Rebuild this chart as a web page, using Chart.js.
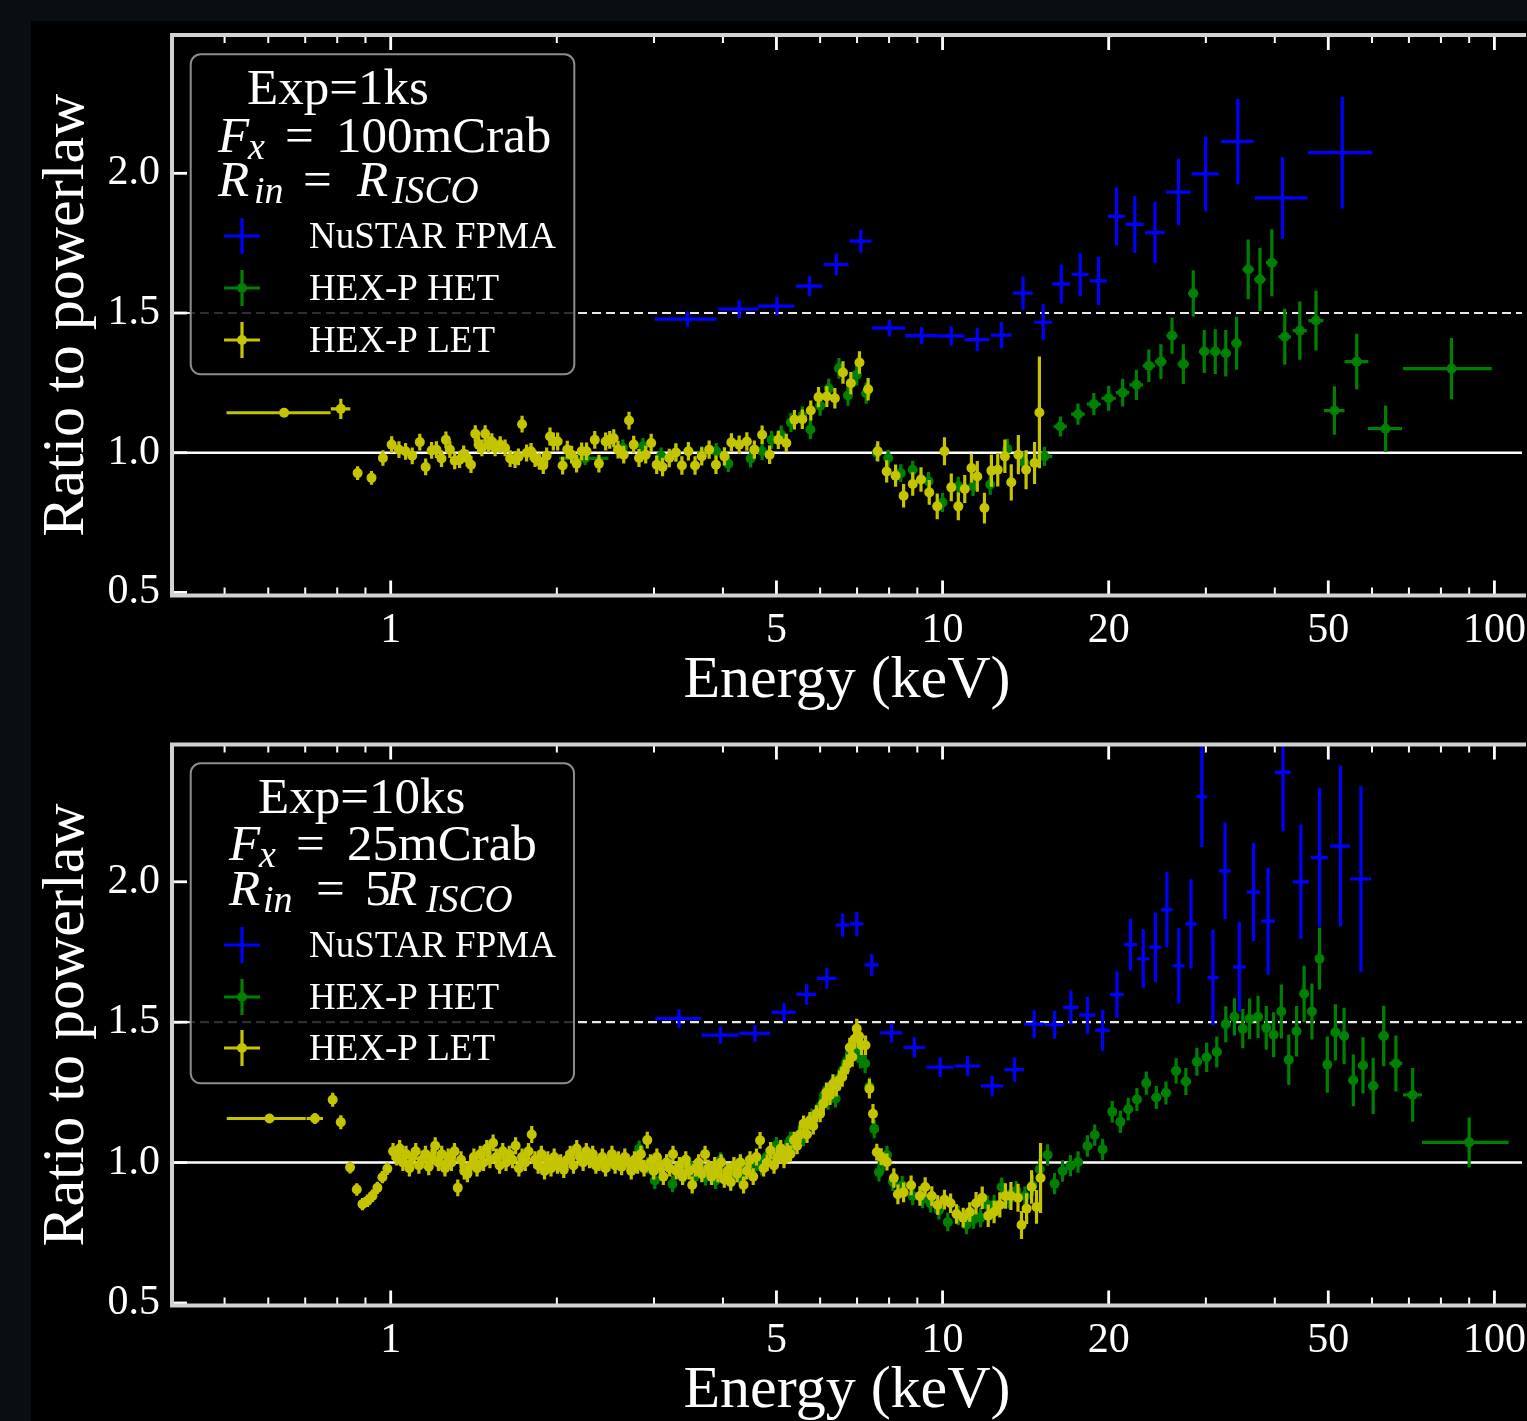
<!DOCTYPE html>
<html>
<head>
<meta charset="utf-8">
<script src="https://cdn.jsdelivr.net/npm/chart.js@4.4.0/dist/chart.umd.min.js"></script>
<style>
    html, body { margin: 0; padding: 0; width: 1527px; height: 1421px; overflow: hidden; background: #0a0d12; }
    #bg { position: absolute; left: 31px; top: 21px; right: 0; bottom: 0; background: #000; }
    canvas { position: absolute; left: 0; }
    #c1 { top: 0; }
    #c2 { top: 720px; }
</style>
</head>
<body>
<div id="bg"></div>
<canvas id="c1" width="1527" height="720"></canvas>
<canvas id="c2" width="1527" height="720"></canvas>
<script>
// axis ticks
const xTicks = [0.5, 0.6, 0.7, 0.8, 0.9, 1, 2, 3, 4, 5, 6, 7, 8, 9, 10, 20, 30, 40, 50, 60, 70, 80, 90, 100];
const xTickLabels = [1, 5, 10, 20, 50, 100];
const yTicks = [0.5, 1.0, 1.5, 2.0];

// ---- top panel: Exp=1ks, 100 mCrab, Rin = R_ISCO ----
const p1NustarE = [3.45, 4.28, 5.01, 5.74, 6.42, 7.11, 8.01, 9.16, 10.37, 11.56,
    12.79, 13.99, 15.22, 16.41, 17.76, 19.17, 20.67, 22.3, 24.26, 26.77,
    29.97, 34.28, 41.3, 53.0];
const p1NustarR = [1.478, 1.514, 1.525, 1.596, 1.673, 1.757, 1.446, 1.419, 1.418, 1.405,
    1.421, 1.571, 1.467, 1.604, 1.638, 1.615, 1.846, 1.817, 1.788, 1.933,
    1.998, 2.114, 1.912, 2.074];
const p1NustarRErr = [0.027, 0.033, 0.033, 0.036, 0.039, 0.041, 0.03, 0.031, 0.035, 0.042,
    0.048, 0.06, 0.064, 0.07, 0.077, 0.086, 0.104, 0.102, 0.11, 0.119,
    0.134, 0.153, 0.146, 0.2];
const p1NustarEErr = [0.44, 0.355, 0.375, 0.32, 0.335, 0.325, 0.55, 0.61, 0.585, 0.6,
    0.55, 0.58, 0.575, 0.615, 0.625, 0.69, 0.74, 0.84, 1.0, 1.375,
    1.7, 2.35, 4.5, 7.1];

const p1HetE = [2.25, 2.635, 2.865, 3.09, 3.287, 3.661, 3.89, 4.09, 4.49, 4.71,
    4.90, 5.10, 5.31, 5.57, 5.76, 6.0, 6.22, 6.49, 6.74, 6.99,
    7.27, 7.6, 7.97, 8.4, 8.83, 9.43, 10.0, 10.68, 11.36, 12.2,
    13.1, 14.05, 15.3, 16.35, 17.6, 18.8, 20.0, 21.2, 22.45, 23.65,
    24.87, 26.05, 27.31, 28.46, 29.8, 31.2, 32.6, 34.1, 35.8, 37.6,
    39.5, 41.7, 44.4, 47.5, 51.3, 56.3, 63.5, 83.6];
const p1HetR = [0.98, 1.017, 1.023, 0.989, 1.001, 0.993, 1.005, 0.961, 0.979, 1.005,
    1.046, 1.064, 1.108, 1.131, 1.083, 1.168, 1.23, 1.302, 1.205, 1.279,
    1.213, 1.0, 0.981, 0.927, 0.939, 0.898, 0.822, 0.880, 0.880, 0.886,
    1.013, 0.965, 0.987, 1.094, 1.138, 1.174, 1.195, 1.215, 1.243, 1.311,
    1.326, 1.419, 1.317, 1.570, 1.362, 1.362, 1.356, 1.392, 1.656, 1.620,
    1.680, 1.415, 1.437, 1.473, 1.151, 1.326, 1.086, 1.301];
const p1HetRErr = [0.025, 0.03, 0.03, 0.03, 0.03, 0.03, 0.03, 0.03, 0.032, 0.032,
    0.033, 0.033, 0.034, 0.035, 0.035, 0.036, 0.036, 0.037, 0.037, 0.038,
    0.038, 0.03, 0.03, 0.032, 0.032, 0.033, 0.034, 0.034, 0.035, 0.036,
    0.037, 0.038, 0.034, 0.036, 0.038, 0.04, 0.045, 0.05, 0.054, 0.058,
    0.062, 0.065, 0.071, 0.083, 0.077, 0.08, 0.083, 0.095, 0.107, 0.113,
    0.12, 0.1, 0.104, 0.107, 0.087, 0.1, 0.083, 0.11];
const p1HetEErr = [0.23, 0.02, 0.02, 0.02, 0.02, 0.03, 0.03, 0.03, 0.04, 0.04,
    0.04, 0.04, 0.05, 0.05, 0.05, 0.05, 0.05, 0.06, 0.06, 0.06,
    0.07, 0.08, 0.08, 0.1, 0.1, 0.12, 0.12, 0.15, 0.15, 0.2,
    0.2, 0.25, 0.5, 0.45, 0.5, 0.55, 0.6, 0.6, 0.65, 0.6,
    0.6, 0.6, 0.65, 0.6, 0.65, 0.7, 0.7, 0.75, 0.85, 0.9,
    0.95, 1.1, 1.3, 1.5, 2.2, 2.8, 4.5, 15.3];

const p1LetE = [0.641, 0.812, 0.871, 0.923, 0.968, 1.004, 1.035, 1.064, 1.094, 1.129,
    1.157, 1.186, 1.21, 1.236, 1.259, 1.28, 1.306, 1.333, 1.356, 1.375,
    1.398, 1.423, 1.443, 1.463, 1.483, 1.504, 1.525, 1.546, 1.579, 1.612,
    1.646, 1.68, 1.704, 1.73, 1.763, 1.796, 1.826, 1.859, 1.89, 1.917,
    1.944, 1.971, 2.007, 2.049, 2.089, 2.127, 2.172, 2.218, 2.264, 2.343,
    2.384, 2.452, 2.494, 2.536, 2.582, 2.644, 2.703, 2.756, 2.818, 2.898,
    2.965, 3.034, 3.109, 3.197, 3.287, 3.37, 3.463, 3.56, 3.661, 3.776,
    3.885, 4.025, 4.143, 4.28, 4.42, 4.56, 4.71, 4.86, 5.04, 5.21,
    5.39, 5.57, 5.77, 5.96, 6.17, 6.38, 6.6, 6.82, 7.07, 7.33,
    7.63, 7.92, 8.22, 8.5, 8.83, 9.14, 9.46, 9.78, 10.08, 10.37,
    10.68, 10.97, 11.28, 11.56, 11.91, 12.26, 12.59, 12.97, 13.32, 13.72,
    14.17, 14.68, 14.98];
const p1LetR = [1.143, 1.157, 0.927, 0.910, 0.981, 1.029, 1.011, 1.005, 0.989, 1.038,
    0.949, 1.008, 1.011, 0.979, 1.046, 1.011, 0.971, 0.975, 0.996, 0.981,
    0.957, 1.068, 1.029, 1.017, 1.068, 1.029, 1.040, 1.017, 1.029, 1.017,
    0.979, 0.975, 0.985, 1.102, 0.999, 1.005, 0.979, 0.969, 0.954, 0.989,
    1.058, 1.040, 1.040, 0.954, 1.011, 0.993, 0.961, 1.005, 1.005, 1.046,
    0.961, 1.040, 1.046, 1.052, 1.011, 0.993, 1.115, 1.029, 0.981, 0.993,
    1.035, 0.957, 0.949, 0.981, 1.001, 0.954, 1.005, 0.954, 0.987, 1.011,
    0.957, 0.987, 1.037, 1.029, 1.040, 1.011, 1.064, 0.993, 1.046, 1.035,
    1.118, 1.120, 1.151, 1.199, 1.201, 1.195, 1.287, 1.249, 1.323, 1.227,
    1.005, 0.933, 0.918, 0.846, 0.888, 0.904, 0.858, 0.808, 1.005, 0.876,
    0.808, 0.870, 0.945, 0.915, 0.802, 0.936, 0.939, 0.987, 0.894, 0.993,
    0.939, 0.963, 1.144];
const p1LetRErr = [0.012, 0.036, 0.025, 0.025, 0.028, 0.03, 0.03, 0.03, 0.03, 0.03,
    0.03, 0.03, 0.03, 0.03, 0.03, 0.03, 0.03, 0.03, 0.03, 0.03,
    0.03, 0.03, 0.03, 0.03, 0.03, 0.03, 0.03, 0.03, 0.03, 0.03,
    0.03, 0.03, 0.03, 0.03, 0.03, 0.03, 0.03, 0.03, 0.03, 0.03,
    0.032, 0.032, 0.032, 0.032, 0.032, 0.032, 0.032, 0.032, 0.032, 0.032,
    0.032, 0.032, 0.032, 0.032, 0.032, 0.032, 0.032, 0.032, 0.032, 0.032,
    0.033, 0.033, 0.033, 0.033, 0.033, 0.033, 0.033, 0.033, 0.033, 0.033,
    0.033, 0.033, 0.033, 0.033, 0.033, 0.033, 0.033, 0.033, 0.033, 0.033,
    0.035, 0.035, 0.036, 0.036, 0.037, 0.037, 0.04, 0.04, 0.04, 0.04,
    0.036, 0.04, 0.04, 0.042, 0.042, 0.044, 0.044, 0.046, 0.05, 0.05,
    0.05, 0.05, 0.052, 0.055, 0.055, 0.058, 0.06, 0.06, 0.065, 0.07,
    0.07, 0.075, 0.2];
const p1LetEErr = [0.137, 0.033];

// ---- bottom panel: Exp=10ks, 25 mCrab, Rin = 5 R_ISCO ----
const p2NustarE = [3.33, 3.96, 4.57, 5.16, 5.67, 6.17, 6.59, 6.99, 7.44, 8.08,
    8.89, 9.9, 11.1, 12.3, 13.5, 14.66, 15.96, 17.08, 18.3, 19.5,
    20.7, 21.9, 23.1, 24.3, 25.5, 26.8, 28.2, 29.5, 30.9, 32.5,
    34.5, 36.6, 38.9, 41.4, 44.6, 48.2, 52.6, 57.3];
const p2NustarR = [1.513, 1.454, 1.460, 1.535, 1.599, 1.656, 1.846, 1.85, 1.704, 1.462,
    1.41, 1.34, 1.344, 1.273, 1.331, 1.493, 1.491, 1.553, 1.525, 1.471,
    1.598, 1.776, 1.726, 1.767, 1.901, 1.701, 1.85, 2.303, 1.659, 2.039,
    1.697, 1.963, 1.86, 2.39, 2.0, 2.086, 2.127, 2.01];
const p2NustarRErr = [0.033, 0.031, 0.03, 0.033, 0.037, 0.037, 0.042, 0.043, 0.039, 0.034,
    0.036, 0.035, 0.036, 0.037, 0.043, 0.05, 0.05, 0.06, 0.066, 0.073,
    0.083, 0.092, 0.105, 0.124, 0.134, 0.134, 0.159, 0.179, 0.17, 0.172,
    0.16, 0.175, 0.19, 0.21, 0.204, 0.247, 0.285, 0.33];
const p2NustarEErr = [0.315, 0.3, 0.3, 0.26, 0.235, 0.255, 0.185, 0.2, 0.22, 0.37,
    0.4, 0.55, 0.6, 0.57, 0.56, 0.6, 0.63, 0.55, 0.62, 0.6,
    0.6, 0.6, 0.6, 0.6, 0.6, 0.65, 0.65, 0.65, 0.7, 0.8,
    0.9, 1.0, 1.1, 1.4, 1.5, 1.7, 2.2, 2.5];

const p2HetE = [2.82, 2.92, 3.01, 3.09, 3.17, 3.24, 3.32, 3.4, 3.48, 3.56,
    3.64, 3.72, 3.8, 3.88, 3.96, 4.05, 4.14, 4.23, 4.32, 4.41,
    4.5, 4.6, 4.7, 4.8, 4.9, 5.0, 5.1, 5.2, 5.3, 5.4,
    5.5, 5.6, 5.7, 5.8, 5.9, 6.0, 6.1, 6.2, 6.3, 6.4,
    6.5, 6.6, 6.7, 6.8, 6.9, 7.0, 7.1, 7.24, 7.37, 7.52,
    7.67, 7.8, 7.93, 8.13, 8.45, 8.83, 9.2, 9.51, 9.85, 10.22,
    10.68, 11.05, 11.38, 11.72, 12.07, 12.4, 12.8, 13.2, 13.6, 14.1,
    14.55, 15.0, 15.5, 15.96, 16.5, 17.05, 17.6, 18.3, 18.87, 19.5,
    20.3, 21.0, 21.7, 22.5, 23.4, 24.4, 25.4, 26.5, 27.6, 28.9,
    30.1, 31.4, 32.6, 33.8, 35.0, 36.0, 37.3, 38.6, 39.8, 41.1,
    42.4, 43.8, 45.2, 46.7, 48.2, 49.8, 51.5, 53.4, 55.5, 57.8,
    60.3, 63.0, 66.3, 71.1, 90];
const p2HetR = [1.049, 0.99, 0.936, 0.98, 1.0, 0.924, 0.975, 0.96, 0.99, 0.95,
    0.985, 0.948, 0.97, 0.936, 1.007, 0.96, 0.948, 0.985, 0.94, 0.99,
    0.97, 1.0, 0.985, 1.02, 1.01, 1.061, 1.03, 1.05, 1.08, 1.06,
    1.1, 1.09, 1.13, 1.16, 1.17, 1.2, 1.24, 1.22, 1.27, 1.228,
    1.3, 1.33, 1.36, 1.39, 1.42, 1.41, 1.37, 1.353, 1.27, 1.12,
    0.966, 1.0, 1.027, 0.932, 0.919, 0.881, 0.87, 0.855, 0.83, 0.788,
    0.811, 0.779, 0.798, 0.804, 0.849, 0.851, 0.913, 0.87, 0.9, 0.881,
    0.919, 0.976, 1.027, 0.925, 0.97, 0.989, 1.002, 1.059, 1.098, 1.047,
    1.181, 1.145, 1.19, 1.225, 1.283, 1.232, 1.248, 1.327, 1.289, 1.359,
    1.375, 1.394, 1.493, 1.519, 1.477, 1.512, 1.519, 1.48, 1.455, 1.538,
    1.366, 1.468, 1.601, 1.538, 1.726, 1.349, 1.464, 1.451, 1.293, 1.346,
    1.273, 1.451, 1.353, 1.241, 1.072];
const p2HetRErr = [0.03, 0.03, 0.03, 0.03, 0.03, 0.03, 0.03, 0.03, 0.03, 0.03,
    0.03, 0.03, 0.03, 0.03, 0.03, 0.03, 0.03, 0.03, 0.03, 0.03,
    0.03, 0.03, 0.03, 0.03, 0.03, 0.03, 0.03, 0.03, 0.03, 0.03,
    0.032, 0.032, 0.032, 0.032, 0.032, 0.032, 0.032, 0.032, 0.032, 0.032,
    0.033, 0.033, 0.034, 0.034, 0.035, 0.035, 0.035, 0.035, 0.033, 0.033,
    0.033, 0.033, 0.033, 0.033, 0.033, 0.033, 0.033, 0.033, 0.033, 0.033,
    0.034, 0.034, 0.034, 0.034, 0.034, 0.034, 0.034, 0.034, 0.034, 0.034,
    0.036, 0.037, 0.038, 0.038, 0.038, 0.038, 0.038, 0.038, 0.038, 0.038,
    0.038, 0.04, 0.04, 0.041, 0.041, 0.041, 0.041, 0.045, 0.048, 0.05,
    0.052, 0.055, 0.064, 0.066, 0.07, 0.072, 0.075, 0.078, 0.08, 0.096,
    0.09, 0.09, 0.1, 0.1, 0.11, 0.1, 0.1, 0.1, 0.092, 0.1,
    0.1, 0.108, 0.1, 0.096, 0.089];
const p2HetEErr = [0.03, 0.03, 0.03, 0.03, 0.03, 0.03, 0.03, 0.03, 0.03, 0.03,
    0.04, 0.04, 0.04, 0.04, 0.04, 0.04, 0.04, 0.04, 0.04, 0.04,
    0.04, 0.04, 0.04, 0.04, 0.04, 0.04, 0.04, 0.04, 0.04, 0.04,
    0.04, 0.04, 0.04, 0.04, 0.04, 0.04, 0.04, 0.04, 0.04, 0.04,
    0.04, 0.04, 0.04, 0.04, 0.04, 0.04, 0.05, 0.06, 0.06, 0.07,
    0.07, 0.07, 0.08, 0.1, 0.15, 0.18, 0.18, 0.15, 0.18, 0.2,
    0.2, 0.18, 0.15, 0.17, 0.17, 0.17, 0.2, 0.2, 0.2, 0.25,
    0.22, 0.22, 0.25, 0.25, 0.27, 0.27, 0.3, 0.3, 0.3, 0.35,
    0.35, 0.35, 0.38, 0.4, 0.45, 0.5, 0.5, 0.55, 0.6, 0.6,
    0.6, 0.6, 0.6, 0.6, 0.55, 0.6, 0.65, 0.6, 0.65, 0.65,
    0.7, 0.7, 0.7, 0.75, 0.8, 0.8, 0.9, 1.0, 1.1, 1.2,
    1.3, 1.4, 1.8, 2.8, 16.1];

const p2LetE = [0.603, 0.729, 0.785, 0.812, 0.844, 0.868, 0.889, 0.908, 0.927, 0.946,
    0.966, 0.986,
    1.01, 1.024, 1.038, 1.052, 1.066, 1.081, 1.095, 1.11, 1.125, 1.14,
    1.156, 1.172, 1.188, 1.204, 1.22, 1.237, 1.254, 1.271, 1.288, 1.305,
    1.323, 1.341, 1.359, 1.377, 1.396, 1.415, 1.434, 1.453, 1.473, 1.493,
    1.513, 1.533, 1.554, 1.575, 1.596, 1.618, 1.64, 1.662, 1.684, 1.707,
    1.73, 1.753, 1.777, 1.801, 1.825, 1.85, 1.875, 1.9, 1.926, 1.952,
    1.978, 2.005, 2.032, 2.059, 2.087, 2.115, 2.144, 2.173, 2.202, 2.232,
    2.262, 2.292, 2.323, 2.354, 2.386, 2.418, 2.451, 2.484, 2.517, 2.551,
    2.586, 2.621, 2.656, 2.692, 2.728, 2.765, 2.802, 2.84, 2.878, 2.917,
    2.956, 2.996, 3.036, 3.077, 3.119, 3.161, 3.203, 3.247, 3.29, 3.335,
    3.38, 3.425, 3.471, 3.518, 3.566, 3.614, 3.662, 3.712, 3.762, 3.813,
    3.864, 3.916, 3.969, 4.022, 4.077, 4.132, 4.187, 4.244, 4.301, 4.359,
    4.418, 4.478, 4.538, 4.6,
    4.67, 4.74, 4.81, 4.88, 4.95, 5.02, 5.09, 5.16, 5.23, 5.3,
    5.38, 5.45, 5.52, 5.6, 5.68, 5.75, 5.83, 5.91, 6.0, 6.08,
    6.16, 6.25, 6.33, 6.42, 6.5, 6.58, 6.65, 6.72, 6.79, 6.86,
    6.93, 6.99, 7.06, 7.13, 7.25, 7.37, 7.48, 7.6, 7.74, 7.93,
    8.16, 8.3, 8.5, 8.77, 9.1, 9.3, 9.56, 9.8, 10.08, 10.34,
    10.6, 10.9, 11.2, 11.5, 11.8, 12.1, 12.4, 12.7, 13.0, 13.3,
    13.7, 13.9, 14.2, 14.5, 14.8, 15.05];
const p2LetR = [1.157, 1.157, 1.224, 1.144, 0.983, 0.904, 0.852, 0.864, 0.882, 0.910,
    0.948, 0.978,
    1.04, 1.02, 1.05, 1.0, 1.03, 0.98, 1.02, 1.04, 0.99, 1.01,
    1.03, 0.985, 1.02, 1.06, 1.0, 1.03, 0.98, 1.02, 1.0, 1.04,
    0.91, 1.01, 0.97, 0.96, 0.99, 1.02, 0.98, 1.03, 1.0, 1.05,
    1.01, 1.07, 1.02, 0.99, 1.04, 1.0, 1.03, 1.01, 1.06, 0.98,
    1.02, 1.0, 1.04, 1.1, 1.01, 0.99, 1.03, 0.97, 1.01, 0.98,
    1.02, 0.99, 1.0, 0.975, 1.01, 1.03, 0.99, 1.05, 1.02, 1.0,
    1.04, 1.01, 1.03, 0.99, 1.0, 1.02, 0.98, 1.0, 1.03, 0.99,
    1.01, 0.985, 1.02, 1.0, 0.97, 1.01, 0.99, 1.03, 0.98, 1.08,
    1.0, 0.97, 1.02, 0.99, 0.95, 1.0, 0.98, 1.03, 0.97, 0.99,
    0.95, 1.01, 0.97, 0.92, 0.98, 1.0, 0.96, 1.03, 0.98, 0.95,
    0.99, 0.96, 1.0, 0.94, 0.97, 0.93, 0.99, 0.96, 1.0, 0.92,
    0.97, 1.01, 0.95, 1.02,
    1.079, 0.98, 1.0, 1.043, 0.99, 1.02, 1.05, 1.01, 1.04, 1.031,
    1.08, 1.06, 1.1, 1.138, 1.1, 1.15, 1.13, 1.174, 1.174, 1.21,
    1.25, 1.24, 1.28, 1.27, 1.293, 1.305, 1.33, 1.35, 1.41, 1.376,
    1.44, 1.477, 1.45, 1.418, 1.418, 1.263, 1.174, 1.037, 1.021, 1.002,
    0.945, 0.887, 0.894, 0.919, 0.881, 0.913, 0.881, 0.849, 0.868, 0.855,
    0.817, 0.804, 0.824, 0.855, 0.875, 0.811, 0.824, 0.849, 0.881, 0.881,
    0.875, 0.778, 0.836, 0.913, 0.842, 0.945];
const p2LetRErr = [0.012, 0.02, 0.025, 0.025, 0.022, 0.022, 0.022, 0.022, 0.022, 0.022,
    0.022, 0.022,
    0.03, 0.03, 0.03, 0.03, 0.03, 0.03, 0.03, 0.03, 0.03, 0.03,
    0.03, 0.03, 0.03, 0.03, 0.03, 0.03, 0.03, 0.03, 0.03, 0.03,
    0.03, 0.03, 0.03, 0.03, 0.03, 0.03, 0.03, 0.03, 0.03, 0.03,
    0.03, 0.03, 0.03, 0.03, 0.03, 0.03, 0.03, 0.03, 0.03, 0.03,
    0.03, 0.03, 0.03, 0.03, 0.03, 0.03, 0.03, 0.03, 0.03, 0.03,
    0.03, 0.03, 0.03, 0.03, 0.03, 0.03, 0.03, 0.03, 0.03, 0.03,
    0.03, 0.03, 0.03, 0.03, 0.03, 0.03, 0.03, 0.03, 0.03, 0.03,
    0.03, 0.03, 0.03, 0.03, 0.03, 0.03, 0.03, 0.03, 0.03, 0.03,
    0.03, 0.03, 0.03, 0.03, 0.03, 0.03, 0.03, 0.03, 0.03, 0.03,
    0.03, 0.03, 0.03, 0.03, 0.03, 0.03, 0.03, 0.03, 0.03, 0.03,
    0.03, 0.03, 0.03, 0.03, 0.03, 0.03, 0.03, 0.03, 0.03, 0.03,
    0.03, 0.03, 0.03, 0.03,
    0.03, 0.03, 0.03, 0.03, 0.03, 0.03, 0.03, 0.03, 0.03, 0.03,
    0.03, 0.03, 0.03, 0.03, 0.03, 0.03, 0.03, 0.03, 0.03, 0.03,
    0.035, 0.035, 0.035, 0.035, 0.035, 0.035, 0.035, 0.035, 0.035, 0.035,
    0.035, 0.035, 0.035, 0.035, 0.035, 0.035, 0.035, 0.03, 0.03, 0.03,
    0.035, 0.035, 0.035, 0.035, 0.035, 0.035, 0.035, 0.035, 0.035, 0.035,
    0.035, 0.035, 0.035, 0.04, 0.04, 0.04, 0.04, 0.045, 0.045, 0.05,
    0.05, 0.05, 0.055, 0.06, 0.06, 0.125];
const p2LetEErr = [0.0985, 0.025];

const SERIF = '"Liberation Serif", "DejaVu Serif", serif';
const BLUE = '#0000ff';
const GREEN = '#008000';
const YELLOW = '#c4c400';

function series(label, color, order, radius, E, R, dR, dE) {
    return {
        label: label,
        order: order,
        data: E.map((e, i) => ({ x: e, y: R[i] })),
        yErr: dR,
        xErr: dE,
        backgroundColor: color,
        borderColor: color,
        pointRadius: radius,
        pointHoverRadius: radius,
        pointBorderWidth: 0,
        showLine: false
    };
}

// error bars for each dataset, drawn just before its markers
const errorBars = {
    id: 'errorBars',
    beforeDatasetDraw(chart, args) {
        const ds = chart.data.datasets[args.index];
        const { ctx, chartArea: a } = chart;
        const xs = chart.scales.x, ys = chart.scales.y;
        ctx.save();
        ctx.beginPath();
        ctx.rect(a.left, a.top, a.right - a.left, a.bottom - a.top);
        ctx.clip();
        ctx.strokeStyle = ds.borderColor;
        ctx.lineWidth = 3.2;
        ctx.beginPath();
        ds.data.forEach((p, i) => {
            const px = xs.getPixelForValue(p.x);
            const py = ys.getPixelForValue(p.y);
            const dy = ds.yErr[i];
            if (dy) {
                ctx.moveTo(px, ys.getPixelForValue(p.y - dy));
                ctx.lineTo(px, ys.getPixelForValue(p.y + dy));
            }
            const dx = ds.xErr[i];
            if (dx) {
                ctx.moveTo(xs.getPixelForValue(p.x - dx), py);
                ctx.lineTo(xs.getPixelForValue(p.x + dx), py);
            }
        });
        ctx.stroke();
        ctx.restore();
    }
};

function makeFrame(legend) {
    return {
        id: 'frame',
        beforeDatasetsDraw(chart) {
            const { ctx, chartArea: a } = chart;
            const ys = chart.scales.y;
            ctx.save();
            ctx.strokeStyle = '#ffffff';
            ctx.lineWidth = 2.5;
            ctx.beginPath();
            ctx.moveTo(a.left, ys.getPixelForValue(1.0));
            ctx.lineTo(a.right, ys.getPixelForValue(1.0));
            ctx.stroke();
            ctx.strokeStyle = '#e8e8e8';
            ctx.lineWidth = 2.2;
            ctx.setLineDash([9, 5]);
            ctx.beginPath();
            ctx.moveTo(a.left, ys.getPixelForValue(1.5));
            ctx.lineTo(a.right, ys.getPixelForValue(1.5));
            ctx.stroke();
            ctx.restore();
        },
        afterDatasetsDraw(chart) {
            const { ctx, chartArea: a } = chart;
            const xs = chart.scales.x, ys = chart.scales.y;
            ctx.save();
            // ticks (inward, top and bottom)
            ctx.strokeStyle = '#ffffff';
            xs.ticks.forEach(t => {
                const px = xs.getPixelForValue(t.value);
                const major = xTickLabels.includes(t.value);
                const len = major ? 15 : 8;
                ctx.lineWidth = major ? 2.8 : 2;
                ctx.beginPath();
                ctx.moveTo(px, a.bottom);
                ctx.lineTo(px, a.bottom - len);
                ctx.moveTo(px, a.top);
                ctx.lineTo(px, a.top + len);
                ctx.stroke();
            });
            ctx.lineWidth = 2.8;
            ys.ticks.forEach(t => {
                const py = ys.getPixelForValue(t.value);
                ctx.beginPath();
                ctx.moveTo(a.left, py);
                ctx.lineTo(a.left + 15, py);
                ctx.stroke();
            });
            // spines
            ctx.strokeStyle = '#d2d2d2';
            ctx.lineWidth = 4;
            ctx.beginPath();
            ctx.moveTo(a.right + 4, a.top);
            ctx.lineTo(a.left, a.top);
            ctx.lineTo(a.left, a.bottom);
            ctx.lineTo(a.right + 4, a.bottom);
            ctx.stroke();

            // legend box
            const [x0, y0, x1, y1] = legend.box;
            ctx.beginPath();
            ctx.roundRect(x0, y0, x1 - x0, y1 - y0, 10);
            ctx.fillStyle = 'rgba(0, 0, 0, 0.8)';
            ctx.fill();
            ctx.strokeStyle = '#8c8c8c';
            ctx.lineWidth = 2;
            ctx.stroke();

            ctx.fillStyle = '#ffffff';
            ctx.textAlign = 'left';
            ctx.textBaseline = 'alphabetic';
            legend.runs.forEach(([text, x, y, size, italic]) => {
                ctx.font = (italic ? 'italic ' : '') + size + 'px ' + SERIF;
                ctx.fillText(text, x, y);
            });

            chart.data.datasets.forEach((ds, i) => {
                const cy = legend.rows[i];
                const cx = 242;
                ctx.strokeStyle = ds.borderColor;
                ctx.lineWidth = 3.2;
                ctx.beginPath();
                ctx.moveTo(cx - 18, cy);
                ctx.lineTo(cx + 18, cy);
                ctx.moveTo(cx, cy - 18);
                ctx.lineTo(cx, cy + 18);
                ctx.stroke();
                ctx.fillStyle = ds.borderColor;
                ctx.beginPath();
                ctx.arc(cx, cy, ds.pointRadius, 0, Math.PI * 2);
                ctx.fill();
                ctx.fillStyle = '#ffffff';
                ctx.font = '37px ' + SERIF;
                ctx.fillText(ds.label, 309, cy + 12);
            });
            ctx.restore();
        }
    };
}

function buildChart(id, datasets, f) {
    return new Chart(document.getElementById(id), {
        type: 'scatter',
        data: { datasets: datasets },
        options: {
            responsive: false,
            animation: false,
            events: [],
            layout: { padding: { top: f.padTop, left: 0, right: 0, bottom: 0 } },
            plugins: {
                legend: { display: false },
                tooltip: { enabled: false }
            },
            scales: {
                x: {
                    type: 'logarithmic',
                    min: 0.4015,
                    max: 112.2,
                    grid: { display: false, drawTicks: false },
                    border: { display: false },
                    afterBuildTicks: s => { s.ticks = xTicks.map(v => ({ value: v })); },
                    afterFit: s => { s.height = f.xAxisHeight; s.paddingLeft = 0; s.paddingRight = 0; },
                    ticks: {
                        autoSkip: false,
                        maxRotation: 0,
                        minRotation: 0,
                        padding: 10,
                        color: '#ffffff',
                        font: { family: SERIF, size: 42 },
                        callback: v => xTickLabels.includes(v) ? String(v) : ''
                    },
                    title: {
                        display: true,
                        text: 'Energy (keV)',
                        color: '#ffffff',
                        font: { family: SERIF, size: 60 },
                        padding: { top: 0, bottom: f.xTitlePad }
                    }
                },
                y: {
                    min: f.yMin,
                    max: f.yMax,
                    grid: { display: false, drawTicks: false },
                    border: { display: false },
                    afterBuildTicks: s => { s.ticks = yTicks.map(v => ({ value: v })); },
                    afterFit: s => { s.width = 172; s.paddingTop = 0; s.paddingBottom = 0; },
                    ticks: {
                        padding: 12,
                        color: '#ffffff',
                        font: { family: SERIF, size: 42 },
                        callback: v => v.toFixed(1)
                    },
                    title: {
                        display: true,
                        text: 'Ratio to powerlaw',
                        color: '#ffffff',
                        font: { family: SERIF, size: 60 },
                        padding: { top: 31, bottom: 0 }
                    }
                }
            }
        },
        plugins: [errorBars, makeFrame(f.legend)]
    });
}

window.onload = function() {
    buildChart('c1', [
        series('NuSTAR FPMA', BLUE, 3, 2.5, p1NustarE, p1NustarR, p1NustarRErr, p1NustarEErr),
        series('HEX-P HET', GREEN, 2, 5, p1HetE, p1HetR, p1HetRErr, p1HetEErr),
        series('HEX-P LET', YELLOW, 1, 5, p1LetE, p1LetR, p1LetRErr, p1LetEErr)
    ], {
        padTop: 35, xAxisHeight: 124.5, xTitlePad: 3, yMin: 0.489, yMax: 2.495,
        legend: {
            box: [190.7, 54.3, 574.3, 374.3],
            rows: [236, 288, 340],
            runs: [
                ['Exp=1ks', 247, 104, 51, false],
                ['F', 218, 152, 51, true], ['x', 248, 159, 38, true],
                ['=', 285, 152, 51, false], ['100mCrab', 336, 152, 51, false],
                ['R', 218, 196, 51, true], ['in', 254, 203, 38, true],
                ['=', 303, 196, 51, false], ['R', 357, 196, 51, true], ['ISCO', 392, 203, 39, true]
            ]
        }
    });

    buildChart('c2', [
        series('NuSTAR FPMA', BLUE, 3, 2.5, p2NustarE, p2NustarR, p2NustarRErr, p2NustarEErr),
        series('HEX-P HET', GREEN, 2, 5, p2HetE, p2HetR, p2HetRErr, p2HetEErr),
        series('HEX-P LET', YELLOW, 1, 5, p2LetE, p2LetR, p2LetRErr, p2LetEErr)
    ], {
        padTop: 24.5, xAxisHeight: 134.5, xTitlePad: 13, yMin: 0.491, yMax: 2.489,
        legend: {
            box: [190.7, 43.3, 574, 363.3],
            rows: [225, 277, 328],
            runs: [
                ['Exp=10ks', 258, 93, 51, false],
                ['F', 229, 140, 51, true], ['x', 259, 147, 38, true],
                ['=', 296, 140, 51, false], ['25mCrab', 347, 140, 51, false],
                ['R', 229, 185, 51, true], ['in', 263, 192, 38, true],
                ['=', 316, 185, 51, false], ['5', 365, 185, 51, false],
                ['R', 386, 185, 51, true], ['ISCO', 426, 192, 39, true]
            ]
        }
    });
};
</script>
</body>
</html>
